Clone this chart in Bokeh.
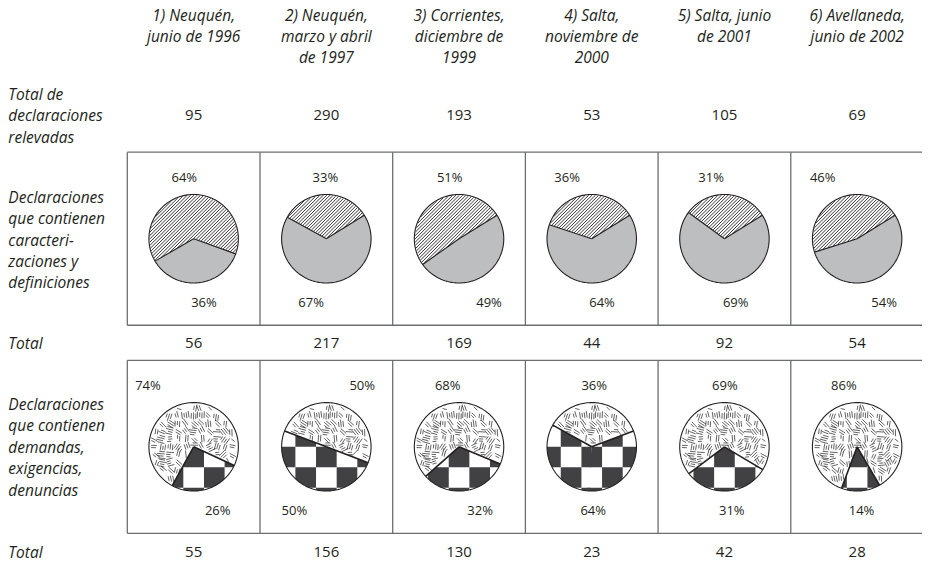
import numpy as np
from bokeh.plotting import figure
from bokeh.models import Range1d
from bokeh.embed import file_html
from bokeh.resources import INLINE
from bokeh.core.properties import value

# ---------------- data ----------------
columns = ["1) Neuquén,\njunio de 1996",
           "2) Neuquén,\nmarzo y abril\nde 1997",
           "3) Corrientes,\ndiciembre de\n1999",
           "4) Salta,\nnoviembre de\n2000",
           "5) Salta, junio\nde 2001",
           "6) Avellaneda,\njunio de 2002"]
total_relevadas = [95, 290, 193, 53, 105, 69]
carac_pct = [64, 33, 51, 36, 31, 46]       # hatched share
carac_rest = [36, 67, 49, 64, 69, 54]      # grey share
total_carac = [56, 217, 169, 44, 92, 54]
dem_pct = [74, 50, 68, 36, 69, 86]         # textured share
dem_rest = [26, 50, 32, 64, 31, 14]        # checkered share
total_dem = [55, 156, 130, 23, 42, 28]
row_label_1 = ["Total de", "declaraciones", "relevadas"]
row_label_2 = ["Declaraciones", "que contienen", "caracteri-", "zaciones y", "definiciones"]
row_label_3 = ["Total"]
row_label_4 = ["Declaraciones", "que contienen", "demandas,", "exigencias,", "denuncias"]
row_label_5 = ["Total"]

# ---------------- layout (reference pixel units) ----------------
W, H = 922, 563
RW, RH = 938, 579
X0, COLW = 129, 135
centers = [X0 + COLW * (i + 0.5) for i in range(6)]
BOX1 = (156, 334)
BOX2 = (370, 548)
R = 45.5
# angle (deg, counter-clockwise from east) where the second slice ends
end_top = [340, 32, 32, 32, 32, 32]
end_bot = [335, 339, 337, 21, 329, 300]
lab_top1 = [-9.5, -1, -9.5, -25, -13.5, -35]
lab_top2 = [10.5, -15.5, 30.5, 10.5, 11.5, 27.5]
lab_bot1 = [-46.5, 36.5, -11.5, 2.5, 0.5, -13.5]
lab_bot2 = [24.5, -32.5, 21.5, 1.5, 7.5, 4.5]

FONT = value("Open Sans")
TXT = "#231f20"

p = figure(width=W, height=H, x_range=Range1d(0, RW), y_range=Range1d(RH, 0),
           output_backend="svg", toolbar_location=None, min_border=0)
p.axis.visible = False
p.grid.visible = False
p.outline_line_color = None
p.background_fill_color = "white"


def arc(cx, cy, r, a0, a1, n=80):
    a = np.radians(np.linspace(a0, a1, n))
    return list(cx + r * np.cos(a)), list(cy - r * np.sin(a))


def wedge(cx, cy, r, a0, span):
    xs, ys = arc(cx, cy, r, a0, a0 + span, max(8, int(span / 2)))
    return [cx] + xs, [cy] + ys


def inside(x, y, cx, cy, r, a0, span):
    dx = x - cx
    dy = cy - y
    rr = np.hypot(dx, dy)
    ang = (np.degrees(np.arctan2(dy, dx)) - a0) % 360
    return (rr <= r) & (ang <= span)


def hatch_segments(cx, cy, r, a0, span, step=3.4):
    xs, ys = [], []
    for c in np.arange(cx + cy - 1.5 * r, cx + cy + 1.5 * r, step):
        t = np.arange(cx - r - 1, cx + r + 1, 0.2)
        yy = c - t
        m = inside(t, yy, cx, cy, r - 0.5, a0, span)
        if not m.any():
            continue
        d = np.diff(np.concatenate([[0], m.astype(int), [0]]))
        starts = np.where(d == 1)[0]
        ends = np.where(d == -1)[0] - 1
        for s, e in zip(starts, ends):
            if e > s:
                xs.append([t[s], t[e]])
                ys.append([yy[s], yy[e]])
    return xs, ys


def hsh(i, j, k=0):
    v = (i * 73856093) ^ (j * 19349663) ^ (k * 83492791)
    v = (v ^ (v >> 13)) * 1274126177
    return (v & 0xFFFFFF) / float(0xFFFFFF)


def texture_segments(cx, cy, r, a0, span):
    """Decorative texture: small clusters of parallel short strokes."""
    xs, ys = [], []
    g = 8.0
    n = int(r / g) + 2
    for i in range(-n, n + 1):
        for j in range(-n, n + 1):
            ang = np.radians(hsh(i, j, 7) * 180.0)
            ux, uy = np.cos(ang), -np.sin(ang)
            vx, vy = -uy, ux
            ox = cx + i * g + (hsh(i, j, 21) - 0.5) * 3
            oy = cy + j * g + (hsh(i, j, 31) - 0.5) * 3
            nstrokes = 2 + int(hsh(i, j, 13) * 2.99)
            for k in range(nstrokes):
                off = (k - (nstrokes - 1) / 2) * 2.3
                L = 4 + 4 * hsh(i, j, k + 5)
                sh = (hsh(i, j, k + 41) - 0.5) * 2
                mx, my = ox + vx * off + ux * sh, oy + vy * off + uy * sh
                x1, y1 = mx - ux * L / 2, my - uy * L / 2
                x2, y2 = mx + ux * L / 2, my + uy * L / 2
                if inside(np.array([x1, mx, x2]), np.array([y1, my, y2]),
                          cx, cy, r - 1.2, a0, span).all():
                    xs.append([x1, x2])
                    ys.append([y1, y2])
    return xs, ys


def clip_poly(subject, clipper):
    n = len(clipper)
    area = sum(clipper[i][0] * clipper[(i + 1) % n][1] - clipper[(i + 1) % n][0] * clipper[i][1]
               for i in range(n))
    sg = 1 if area > 0 else -1

    def ins(pt, a, b):
        return sg * ((b[0] - a[0]) * (pt[1] - a[1]) - (b[1] - a[1]) * (pt[0] - a[0])) >= 0

    def inter(s, e, a, b):
        x1, y1, x2, y2 = s[0], s[1], e[0], e[1]
        x3, y3, x4, y4 = a[0], a[1], b[0], b[1]
        den = (x1 - x2) * (y3 - y4) - (y1 - y2) * (x3 - x4)
        if abs(den) < 1e-12:
            return e
        t = ((x1 - x3) * (y3 - y4) - (y1 - y3) * (x3 - x4)) / den
        return (x1 + t * (x2 - x1), y1 + t * (y2 - y1))

    out = subject
    for i in range(n):
        a, b = clipper[i], clipper[(i + 1) % n]
        inp, out = out, []
        if not inp:
            break
        s = inp[-1]
        for e in inp:
            if ins(e, a, b):
                if not ins(s, a, b):
                    out.append(inter(s, e, a, b))
                out.append(e)
            elif ins(s, a, b):
                out.append(inter(s, e, a, b))
            s = e
    return out


def checker_polys(cx, cy, r, a0, span, cell=21.0):
    if span > 180:
        pieces = [(a0, span / 2 + 2), (a0 + span / 2 - 2, span / 2 + 2)]
    else:
        pieces = [(a0, span)]
    xs, ys = [], []
    for (b0, sp) in pieces:
        wx, wy = wedge(cx, cy, r, b0, sp)
        clipper = list(zip(wx, wy))
        for i in range(-4, 5):
            for j in range(-4, 5):
                if (i + j) % 2:
                    continue
                x0 = cx - cell / 2 + i * cell
                y0 = cy + j * cell
                sq = [(x0, y0), (x0 + cell, y0), (x0 + cell, y0 + cell), (x0, y0 + cell)]
                res = clip_poly(sq, clipper)
                if len(res) >= 3:
                    xs.append([q[0] for q in res])
                    ys.append([q[1] for q in res])
    return xs, ys


# ---------------- boxes ----------------
for (y0, y1) in (BOX1, BOX2):
    xs = [[X0, 945], [X0, 945], [X0, X0]] + [[X0 + COLW * k, X0 + COLW * k] for k in range(1, 6)]
    ys = [[y0, y0], [y1, y1], [y0, y1]] + [[y0, y1] for k in range(1, 6)]
    p.multi_line(xs, ys, line_color="#6d6e71", line_width=1.3)

# ---------------- top row pies ----------------
cy1 = (BOX1[0] + BOX1[1]) / 2
cy2 = (BOX2[0] + BOX2[1]) / 2
for i, cx in enumerate(centers):
    span_g = carac_rest[i] / 100 * 360
    span_h = carac_pct[i] / 100 * 360
    g0 = end_top[i] - span_g
    h0 = end_top[i]
    hx, hy = wedge(cx, cy1, R, h0, span_h)
    p.patch(hx, hy, fill_color="white", line_color=None)
    sx, sy = hatch_segments(cx, cy1, R, h0, span_h)
    p.multi_line(sx, sy, line_color="#231f20", line_width=0.9)
    gx, gy = wedge(cx, cy1, R, g0, span_g)
    p.patch(gx, gy, fill_color="#bcbec0", line_color=None)
    for a in (g0, end_top[i]):
        p.line([cx, cx + R * np.cos(np.radians(a))], [cy1, cy1 - R * np.sin(np.radians(a))],
               line_color="#231f20", line_width=1.1)
    ox, oy = arc(cx, cy1, R, 0, 360, 200)
    p.line(ox, oy, line_color="#231f20", line_width=1.1)

# ---------------- bottom row pies ----------------
for i, cx in enumerate(centers):
    span_c = dem_rest[i] / 100 * 360
    span_t = dem_pct[i] / 100 * 360
    c0 = end_bot[i] - span_c
    t0 = end_bot[i]
    tx, ty = wedge(cx, cy2, R, t0, span_t)
    p.patch(tx, ty, fill_color="white", line_color=None)
    sx, sy = texture_segments(cx, cy2, R, t0, span_t)
    p.multi_line(sx, sy, line_color="#231f20", line_width=0.7)
    kx, ky = wedge(cx, cy2, R, c0, span_c)
    p.patch(kx, ky, fill_color="white", line_color=None)
    qx, qy = checker_polys(cx, cy2, R, c0, span_c)
    p.patches(qx, qy, fill_color="#414042", line_color=None)
    for a in (c0, end_bot[i]):
        p.line([cx, cx + R * np.cos(np.radians(a))], [cy2, cy2 - R * np.sin(np.radians(a))],
               line_color="#231f20", line_width=1.6)
    ox, oy = arc(cx, cy2, R, 0, 360, 200)
    p.line(ox, oy, line_color="#231f20", line_width=1.1)

# ---------------- texts ----------------
def put(xs, ys, texts, size, italic=False, align="center"):
    p.text(xs, ys, text=texts, text_align=align, text_baseline="middle",
           text_font=FONT, text_font_size=size, text_color=TXT,
           text_font_style="italic" if italic else "normal")

LH = 21.5
hx, hy, ht = [], [], []
for i, c in enumerate(columns):
    for k, line in enumerate(c.split("\n")):
        hx.append(centers[i]); hy.append(15 + k * LH); ht.append(line)
put(hx, hy, ht, "15.5px", italic=True)

def row_label(lines, ymid):
    n = len(lines)
    ys = [ymid + (k - (n - 1) / 2) * 22 for k in range(n)]
    put([8] * n, ys, lines, "15.5px", italic=True, align="left")

row_label(row_label_1, 118)
row_label(row_label_2, 246)
row_label(row_label_3, 352)
row_label(row_label_4, 459)
row_label(row_label_5, 567)

put(centers, [118] * 6, [str(v) for v in total_relevadas], "15px")
put(centers, [352] * 6, [str(v) for v in total_carac], "15px")
put(centers, [567] * 6, [str(v) for v in total_dem], "15px")

put([c + d for c, d in zip(centers, lab_top1)], [182] * 6, [f"{v}%" for v in carac_pct], "13px")
put([c + d for c, d in zip(centers, lab_top2)], [310] * 6, [f"{v}%" for v in carac_rest], "13px")
put([c + d for c, d in zip(centers, lab_bot1)], [395] * 6, [f"{v}%" for v in dem_pct], "13px")
put([c + d for c, d in zip(centers, lab_bot2)], [524] * 6, [f"{v}%" for v in dem_rest], "13px")

open("out.html", "w").write(file_html(p, INLINE))
